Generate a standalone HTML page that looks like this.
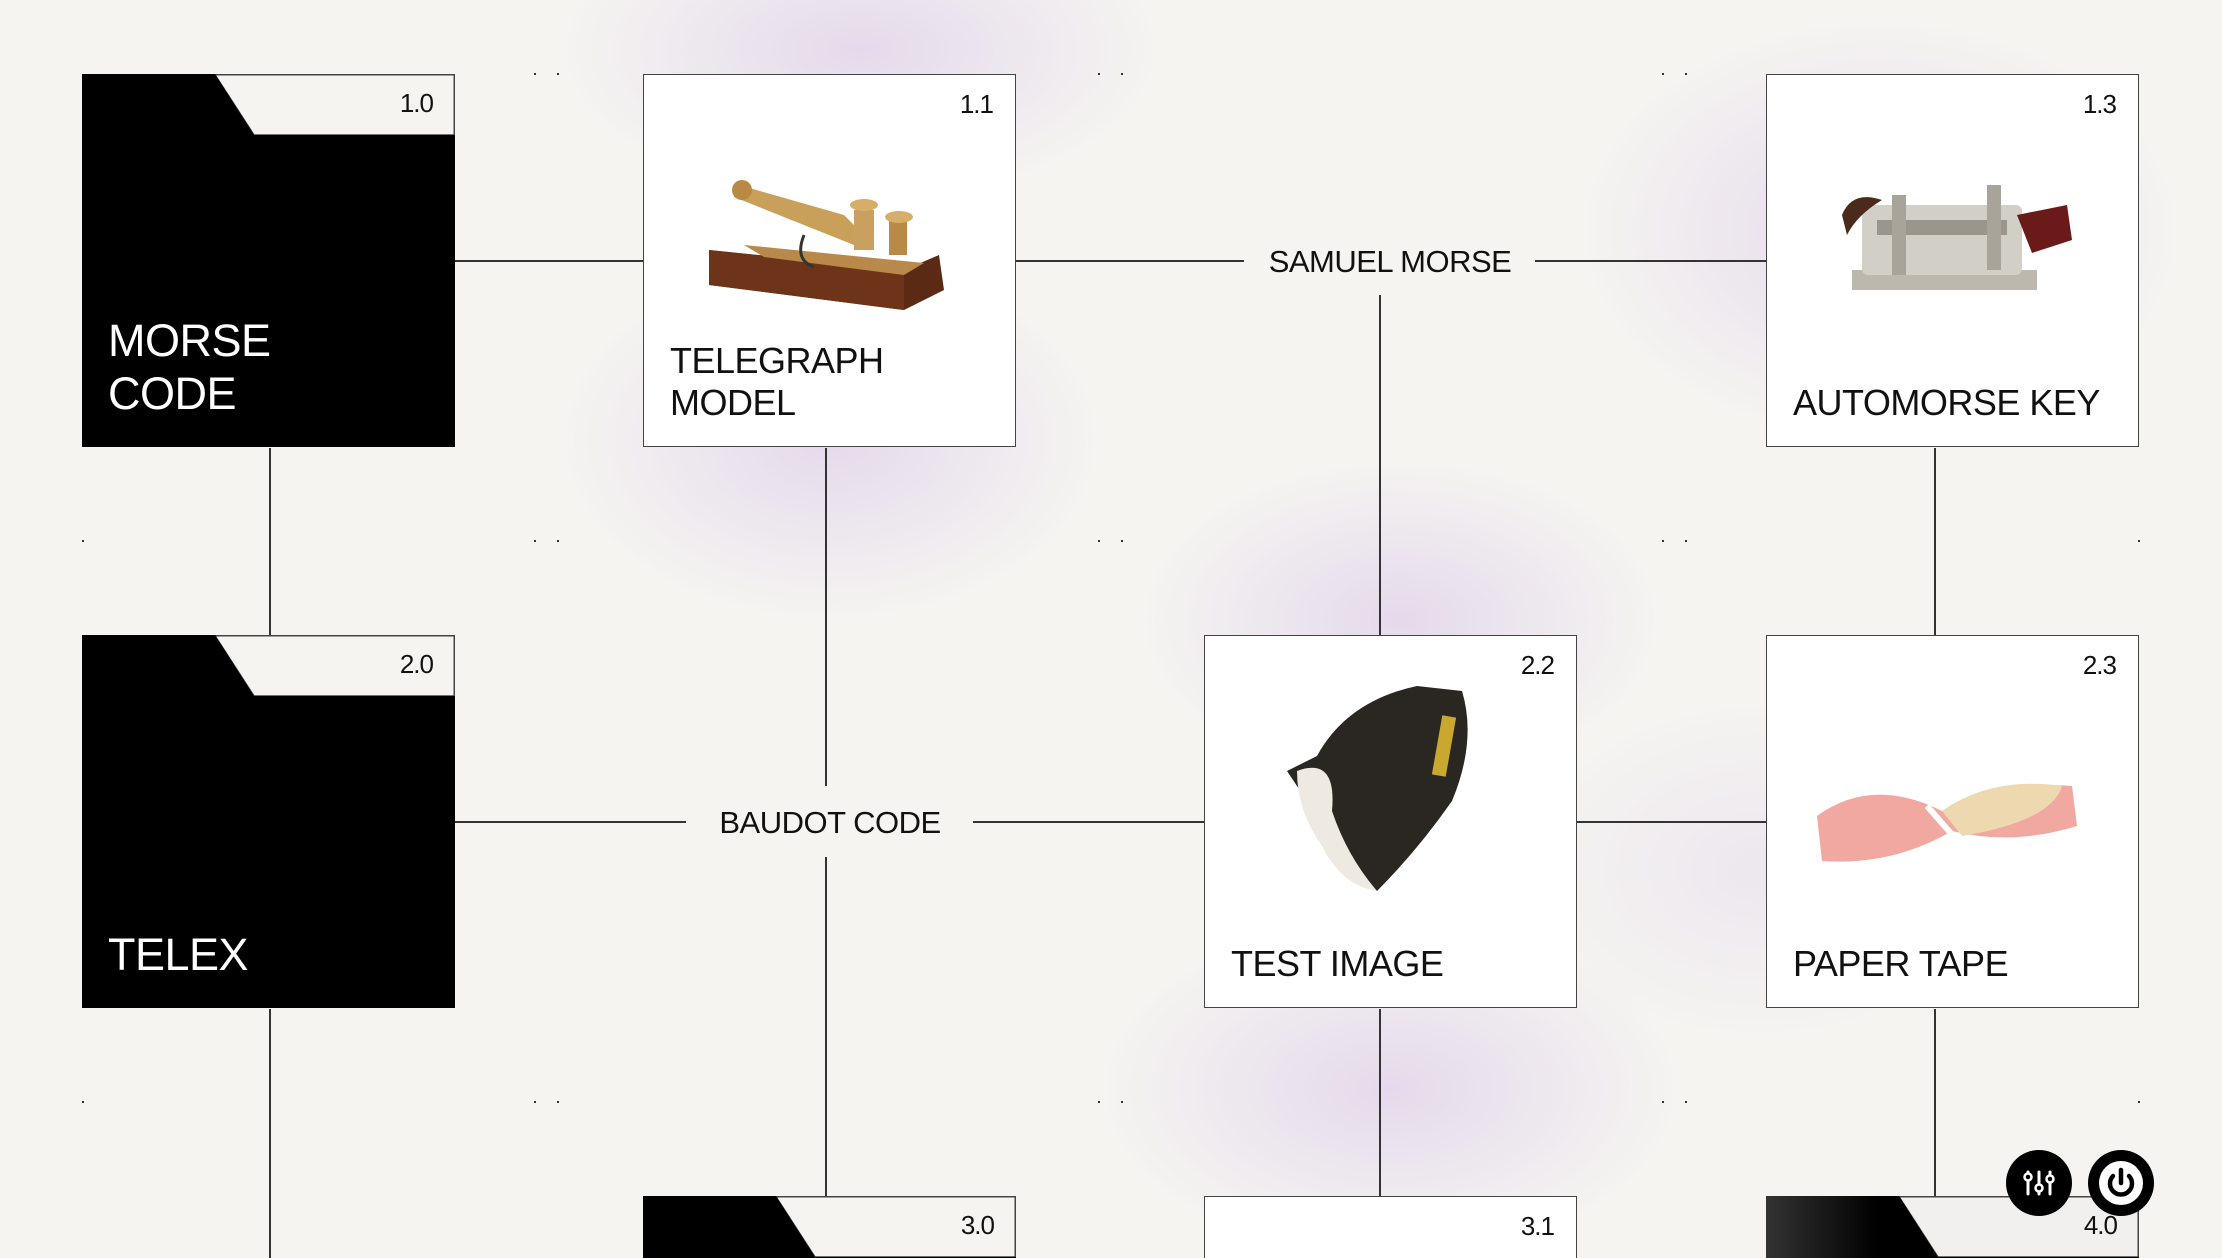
<!DOCTYPE html>
<html><head><meta charset="utf-8"><style>
html,body{margin:0;padding:0;width:2222px;height:1258px;overflow:hidden}
#wrap{width:2222px;height:1258px;position:relative;overflow:hidden;background:#f5f4f1;font-family:"Liberation Sans",sans-serif;color:#111}
.glow{position:absolute;border-radius:50%;background:radial-gradient(closest-side,rgba(218,200,232,.6),rgba(218,200,232,0))}
.h{position:absolute;height:1.5px;background:#333}
.v{position:absolute;width:1.5px;background:#333}
.card{position:absolute;width:373px;height:373px;background:#fff;box-sizing:border-box;border:1.5px solid #444}
.num{position:absolute;right:22px;top:14px;font-size:26px;letter-spacing:-1px}
.title{position:absolute;left:26px;font-size:36px;line-height:42px;letter-spacing:-0.5px}
.folder{position:absolute;width:373px;height:373px;overflow:hidden}
.ftitle{position:absolute;left:26px;color:#fff;font-size:45px;line-height:53px;letter-spacing:-0.5px}
.lbl{position:absolute;font-size:31px;letter-spacing:-0.5px;transform:translate(-50%,-50%);white-space:nowrap}
.dot{position:absolute;width:2px;height:2px;background:#333}
.btn{position:absolute;width:66px;height:66px;border-radius:50%;background:#000}
</style></head><body><div id="wrap">
<div class="glow" style="left:560px;top:-100px;width:600px;height:300px"></div>
<div class="glow" style="left:560px;top:260px;width:540px;height:360px"></div>
<div class="glow" style="left:1140px;top:460px;width:520px;height:320px"></div>
<div class="glow" style="left:1580px;top:20px;width:600px;height:420px"></div>
<div class="glow" style="left:1100px;top:920px;width:580px;height:338px"></div>
<div class="glow" style="left:1520px;top:700px;width:480px;height:340px;opacity:.5"></div>

<div class="h" style="left:455px;top:260px;width:188px"></div>
<div class="h" style="left:1016px;top:260px;width:228px"></div>
<div class="h" style="left:1535px;top:260px;width:231px"></div>
<div class="v" style="left:1379px;top:295px;height:340px"></div>
<div class="v" style="left:269px;top:448px;height:187px"></div>
<div class="v" style="left:269px;top:1009px;height:249px"></div>
<div class="v" style="left:825px;top:448px;height:338px"></div>
<div class="v" style="left:825px;top:857px;height:339px"></div>
<div class="h" style="left:455px;top:821px;width:231px"></div>
<div class="h" style="left:973px;top:821px;width:231px"></div>
<div class="h" style="left:1577px;top:821px;width:189px"></div>
<div class="v" style="left:1934px;top:448px;height:187px"></div>
<div class="v" style="left:1934px;top:1009px;height:187px"></div>
<div class="v" style="left:1379px;top:1009px;height:187px"></div>
<div class="lbl" style="left:1390px;top:262px">SAMUEL MORSE</div>
<div class="lbl" style="left:830px;top:823px">BAUDOT CODE</div>

<div class="dot" style="left:534px;top:73px"></div><div class="dot" style="left:557px;top:73px"></div>
<div class="dot" style="left:1098px;top:73px"></div><div class="dot" style="left:1121px;top:73px"></div>
<div class="dot" style="left:1662px;top:73px"></div><div class="dot" style="left:1685px;top:73px"></div>
<div class="dot" style="left:534px;top:540px"></div><div class="dot" style="left:557px;top:540px"></div>
<div class="dot" style="left:1098px;top:540px"></div><div class="dot" style="left:1121px;top:540px"></div>
<div class="dot" style="left:1662px;top:540px"></div><div class="dot" style="left:1685px;top:540px"></div>
<div class="dot" style="left:534px;top:1101px"></div><div class="dot" style="left:557px;top:1101px"></div>
<div class="dot" style="left:1098px;top:1101px"></div><div class="dot" style="left:1121px;top:1101px"></div>
<div class="dot" style="left:1662px;top:1101px"></div><div class="dot" style="left:1685px;top:1101px"></div>
<div class="dot" style="left:82px;top:540px"></div><div class="dot" style="left:82px;top:1101px"></div>
<div class="dot" style="left:2138px;top:540px"></div><div class="dot" style="left:2138px;top:1101px"></div>

<div class="folder" style="left:82px;top:74px">
<svg width="373" height="373"><polygon points="133,0.75 372.25,0.75 372.25,61 172,61" fill="#f5f4f1" stroke="#444" stroke-width="1.5"/><polygon points="0,0 133,0 172,61 373,61 373,373 0,373" fill="#000"/></svg>
<div class="num">1.0</div>
<div class="ftitle" style="top:240px">MORSE<br>CODE</div>
</div>
<div class="folder" style="left:82px;top:635px">
<svg width="373" height="373"><polygon points="133,0.75 372.25,0.75 372.25,61 172,61" fill="#f5f4f1" stroke="#444" stroke-width="1.5"/><polygon points="0,0 133,0 172,61 373,61 373,373 0,373" fill="#000"/></svg>
<div class="num">2.0</div>
<div class="ftitle" style="top:293px">TELEX</div>
</div>
<div class="folder" style="left:643px;top:1196px;height:62px">
<svg width="373" height="62"><polygon points="133,0.75 372.25,0.75 372.25,61 172,61" fill="#f5f4f1" stroke="#444" stroke-width="1.5"/><polygon points="0,0 133,0 172,61 373,61 373,373 0,373" fill="#000"/></svg>
<div class="num">3.0</div>
</div>
<div class="folder" style="left:1766px;top:1196px;height:62px">
<svg width="373" height="62"><defs><linearGradient id="fg" x1="0" x2="1"><stop offset="0" stop-color="#333"/><stop offset=".3" stop-color="#000"/></linearGradient></defs><polygon points="133,0.75 372.25,0.75 372.25,61 172,61" fill="#f1f0ee" stroke="#444" stroke-width="1.5"/><polygon points="0,0 133,0 172,61 373,61 373,373 0,373" fill="url(#fg)"/></svg>
<div class="num">4.0</div>
</div>

<div class="card" style="left:643px;top:74px">
<div class="num">1.1</div>
<svg style="position:absolute;left:60px;top:100px" width="250" height="145">
<polygon points="5,75 200,95 235,80 240,115 200,135 5,110" fill="#5a2a14"/>
<polygon points="5,75 200,95 200,135 5,110" fill="#6e341a"/>
<polygon points="40,70 220,88 200,100 60,82" fill="#b8894a"/>
<path d="M35,10 L140,40 L160,60 L150,70 L30,22 Z" fill="#c9a05a"/>
<circle cx="38" cy="15" r="10" fill="#b88a45"/>
<rect x="150" y="35" width="20" height="40" fill="#caa060"/>
<rect x="185" y="45" width="18" height="35" fill="#b88a45"/>
<ellipse cx="160" cy="30" rx="14" ry="6" fill="#d6ae6a"/>
<ellipse cx="195" cy="42" rx="14" ry="6" fill="#d6ae6a"/>
<path d="M100,60 Q90,85 110,92" stroke="#333" stroke-width="3" fill="none"/>
</svg>
<div class="title" style="top:265px">TELEGRAPH<br>MODEL</div>
</div>
<div class="card" style="left:1766px;top:74px">
<div class="num">1.3</div>
<svg style="position:absolute;left:70px;top:100px" width="245" height="135">
<rect x="15" y="95" width="185" height="20" fill="#bdb8ae"/>
<rect x="25" y="30" width="160" height="70" rx="6" fill="#d2cfc6"/>
<rect x="40" y="45" width="130" height="15" fill="#9a968c"/>
<rect x="55" y="20" width="14" height="80" fill="#a8a49a"/>
<rect x="150" y="10" width="14" height="85" fill="#a8a49a"/>
<path d="M5,40 Q15,15 45,25 Q20,40 10,60 Z" fill="#4a2a1a"/>
<polygon points="180,40 230,30 235,65 195,78" fill="#6b1a1a"/>
</svg>
<div class="title" style="top:307px">AUTOMORSE KEY</div>
</div>
<div class="card" style="left:1204px;top:635px">
<div class="num">2.2</div>
<svg style="position:absolute;left:72px;top:45px" width="215" height="220">
<path d="M40,75 Q70,20 140,5 L185,10 Q200,60 175,120 Q140,170 100,210 Q60,195 50,150 Q30,120 10,90 Z" fill="#2a2622"/>
<path d="M20,90 Q60,75 55,130 Q70,175 100,210 Q65,205 45,165 Q20,130 20,90 Z" fill="#eeeae2"/>
<rect x="160" y="35" width="14" height="60" fill="#c9a830" transform="rotate(10 167 65)"/>
</svg>
<div class="title" style="top:307px">TEST IMAGE</div>
</div>
<div class="card" style="left:1766px;top:635px">
<div class="num">2.3</div>
<svg style="position:absolute;left:45px;top:120px" width="270" height="115">
<path d="M5,60 Q60,20 130,55 Q190,25 260,30 L265,70 Q200,90 140,75 Q80,110 10,105 Z" fill="#f0a8a0"/>
<path d="M130,55 Q180,20 250,30 Q240,65 150,80 Z" fill="#eed8b0"/>
<path d="M115,50 L150,90" stroke="#fff" stroke-width="6"/>
</svg>
<div class="title" style="top:307px">PAPER TAPE</div>
</div>
<div class="card" style="left:1204px;top:1196px;height:62px;border-bottom:none">
<div class="num">3.1</div>
</div>

<div class="btn" style="left:2006px;top:1150px">
<svg width="66" height="66"><g stroke="#fff" stroke-width="3" fill="none" stroke-linecap="round"><line x1="22" y1="22" x2="22" y2="44"/><line x1="33" y1="22" x2="33" y2="44"/><line x1="44" y1="22" x2="44" y2="44"/></g><g fill="#000" stroke="#fff" stroke-width="2.5"><circle cx="22" cy="27" r="3.5"/><circle cx="33" cy="38" r="3.5"/><circle cx="44" cy="29" r="3.5"/></g></svg>
</div>
<div class="btn" style="left:2088px;top:1150px">
<svg width="66" height="66"><circle cx="33" cy="33" r="22" fill="#fff"/><path d="M25,26 A11,11 0 1 0 41,26" stroke="#000" stroke-width="4.5" fill="none" stroke-linecap="round"/><line x1="33" y1="20" x2="33" y2="33" stroke="#000" stroke-width="4.5" stroke-linecap="round"/></svg>
</div>
</div></body></html>
